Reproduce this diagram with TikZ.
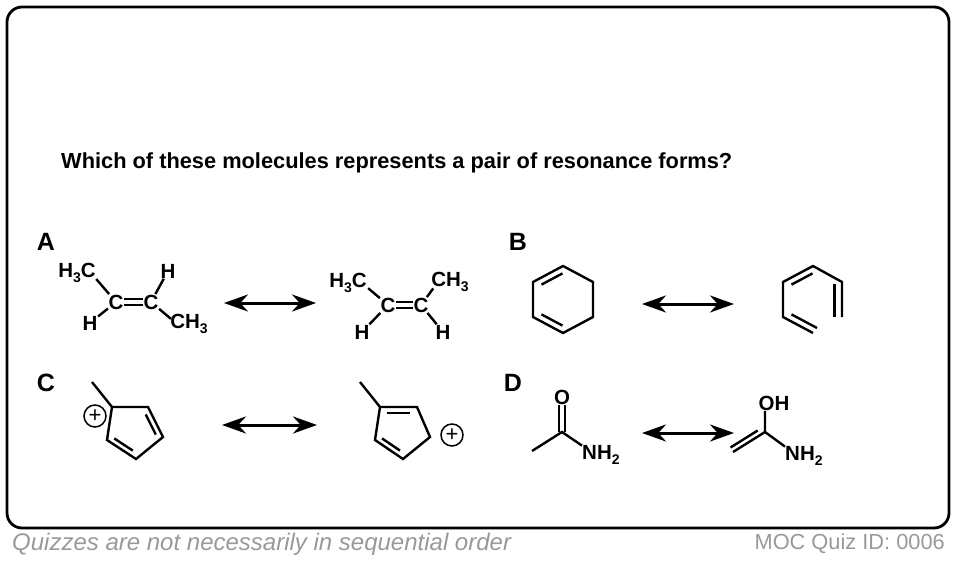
\documentclass[tikz,border=0pt]{standalone}
\usepackage{fontspec}
\setmainfont{Liberation Sans}
\usetikzlibrary{arrows.meta,calc}
\newcommand{\mysub}[1]{\raisebox{-0.4ex}{\fontsize{14}{14}\selectfont #1}}
\tikzset{
  atom/.style={font=\fontsize{20.5}{20.5}\selectfont\bfseries, inner sep=0.5pt},
  lbl/.style={font=\fontsize{25}{25}\selectfont\bfseries, inner sep=0pt},
  bond/.style={line width=2.4pt},
  sk/.style={line width=2.4pt, line join=miter},
  res/.style={line width=3pt, {Stealth[length=24pt,width=17pt]}-{Stealth[length=24pt,width=17pt]}},
  chg/.style={draw, circle, line width=1.5pt, inner sep=0pt, minimum size=22pt, font=\fontsize{22}{22}\selectfont},
}
\begin{document}
\begin{tikzpicture}[x=1pt,y=-1pt]
\useasboundingbox (0,0) rectangle (956,562);
\draw[line width=2.8pt, rounded corners=15pt] (7,7) rectangle (949,528);
\node[anchor=west, text=black!40, font=\fontsize{24}{24}\selectfont\itshape, inner sep=0pt] (foot) at (12,544) {Quizzes are not necessarily in sequential order};
\node[anchor=east, text=black!40, font=\fontsize{21.8}{21.8}\selectfont, inner sep=0pt] (qid) at (945,544) {MOC Quiz ID: 0006};
\node[anchor=west, font=\fontsize{21.8}{21.8}\selectfont\bfseries, inner sep=0pt] (q) at (61,163) {Which of these molecules represents a pair of resonance forms?};
\node[lbl] (la) at (46,242) {A};
\node[lbl] (lb) at (518,242) {B};
\node[lbl] (lc) at (46,383) {C};
\node[lbl] (ld) at (513,383) {D};
% A1
\node[atom] (a1m) at (77,273) {H\mysub{3}C};
\coordinate (a1mc) at (91,273);
\node[atom] (a1c1) at (116,302) {C};
\node[atom] (a1c2) at (151,302) {C};
\node[atom] (a1h1) at (168,271) {H};
\node[atom] (a1h2) at (90,323) {H};
\node[atom] (a1m2) at (189,324) {CH\mysub{3}};
\coordinate (a1m2c) at (177,324);
\draw[bond, shorten <=8pt] (a1mc) -- (a1c1);
\draw[bond] (a1c2) -- (a1h1);
\draw[bond] (a1c1) -- (a1h2);
\draw[bond, shorten >=8pt] (a1c2) -- (a1m2c);
\draw[line width=2.4pt] ([yshift=-3pt]a1c1.east) -- ([yshift=-3pt]a1c2.west);
\draw[line width=2.4pt] ([yshift=3pt]a1c1.east) -- ([yshift=3pt]a1c2.west);
% A2
\node[atom] (a2m) at (348,283) {H\mysub{3}C};
\coordinate (a2mc) at (362,283);
\node[atom] (a2c1) at (388,305) {C};
\node[atom] (a2c2) at (421,305) {C};
\node[atom] (a2m2) at (450,282) {CH\mysub{3}};
\coordinate (a2m2c) at (438,282);
\node[atom] (a2h1) at (362,332) {H};
\node[atom] (a2h2) at (443,332) {H};
\draw[bond, shorten <=8pt] (a2mc) -- (a2c1);
\draw[bond] (a2c1) -- (a2h1);
\draw[bond, shorten >=8pt] (a2c2) -- (a2m2c);
\draw[bond] (a2c2) -- (a2h2);
\draw[line width=2.4pt] ([yshift=-3pt]a2c1.east) -- ([yshift=-3pt]a2c2.west);
\draw[line width=2.4pt] ([yshift=3pt]a2c1.east) -- ([yshift=3pt]a2c2.west);
\coordinate (aa1) at (224,303); \coordinate (aa2) at (316,303);
\draw[res] (aa1) -- (aa2);
% B1
\coordinate (b1t) at (563,266); \coordinate (b1ur) at (593,282); \coordinate (b1lr) at (593,317);
\coordinate (b1b) at (563,333); \coordinate (b1ll) at (533,317); \coordinate (b1ul) at (533,282);
\draw[sk] (b1t) -- (b1ur) -- (b1lr) -- (b1b) -- (b1ll) -- (b1ul) -- cycle;
\draw[sk] ($(b1ul)!0.15!(b1t)+(4,5)$) -- ($(b1ul)!0.85!(b1t)+(4,5)$);
\draw[sk] ($(b1ll)!0.15!(b1b)+(4,-5)$) -- ($(b1ll)!0.85!(b1b)+(4,-5)$);
\coordinate (ba1) at (642,304); \coordinate (ba2) at (734,304);
\draw[res] (ba1) -- (ba2);
% B2
\coordinate (b2t) at (813,266); \coordinate (b2ur) at (842,282); \coordinate (b2lr) at (842,317);
\coordinate (b2ul) at (783,282); \coordinate (b2ll) at (783,317); \coordinate (b2b) at (813,333);
\draw[sk] (b2lr) -- (b2ur) -- (b2t) -- (b2ul) -- (b2ll) -- (b2b);
\draw[sk] ($(b2ul)!0.15!(b2t)+(4,5)$) -- ($(b2ul)!0.85!(b2t)+(4,5)$);
\draw[sk] ($(b2ll)!0.15!(b2b)+(4,-5)$) -- ($(b2ll)!1!(b2b)+(4,-5)$);
\draw[sk] (834.5,284) -- (834.5,317);
% C1
\coordinate (c1tl) at (112,407); \coordinate (c1tr) at (148,407); \coordinate (c1r) at (163,437);
\coordinate (c1b) at (136,459); \coordinate (c1l) at (107,440); \coordinate (c1me) at (92,382);
\draw[sk] (c1tl) -- (c1tr) -- (c1r) -- (c1b) -- (c1l) -- cycle;
\draw[sk] (c1me) -- (c1tl);
\draw[sk] ($(c1tr)!0.18!(c1r)+(-5,2)$) -- ($(c1tr)!0.85!(c1r)+(-5,2)$);
\draw[sk] ($(c1l)!0.18!(c1b)+(2,-5)$) -- ($(c1l)!0.82!(c1b)+(2,-5)$);
\node[chg] (c1p) at (95,416) {+};
\coordinate (ca1) at (222,425); \coordinate (ca2) at (317,425);
\draw[res] (ca1) -- (ca2);
% C2
\coordinate (c2tl) at (380,407); \coordinate (c2tr) at (417,407); \coordinate (c2r) at (430,437);
\coordinate (c2b) at (403,459); \coordinate (c2l) at (375,440); \coordinate (c2me) at (360,382);
\draw[sk] (c2tl) -- (c2tr) -- (c2r) -- (c2b) -- (c2l) -- cycle;
\draw[sk] (c2me) -- (c2tl);
\draw[sk] ($(c2tl)!0.18!(c2tr)+(0,6)$) -- ($(c2tl)!0.82!(c2tr)+(0,6)$);
\draw[sk] ($(c2l)!0.18!(c2b)+(2,-5)$) -- ($(c2l)!0.82!(c2b)+(2,-5)$);
\node[chg] (c2p) at (452,435) {+};
% D1
\coordinate (d1me) at (532,451); \coordinate (d1c) at (562,432);
\node[atom] (d1o) at (562,397) {O};
\node[atom, anchor=west, inner sep=0pt] (d1n) at (582,455) {NH\mysub{2}};
\draw[sk] (d1me) -- (d1c) -- (d1n.north west);
\draw[sk] ([xshift=-2.8pt]d1c) -- ([xshift=-2.8pt]d1o.south);
\draw[sk] ([xshift=2.8pt]d1c) -- ([xshift=2.8pt]d1o.south);
\coordinate (da1) at (642,433); \coordinate (da2) at (734,433);
\draw[res] (da1) -- (da2);
% D2
\coordinate (d2c) at (765,432); \coordinate (d2ch) at (733,452);
\node[atom] (d2o) at (774,403) {OH};
\node[atom, anchor=west, inner sep=0pt] (d2n) at (785,456) {NH\mysub{2}};
\draw[sk] (d2o.south -| d2c) -- (d2c) -- (d2n.north west);
\draw[sk] (d2c) -- (d2ch);
\draw[sk] ($(d2c)!0.15!(d2ch)+(-2.5,-4.5)$) -- ($(d2ch)+(-2.5,-4.5)$);
\end{tikzpicture}
\end{document}
